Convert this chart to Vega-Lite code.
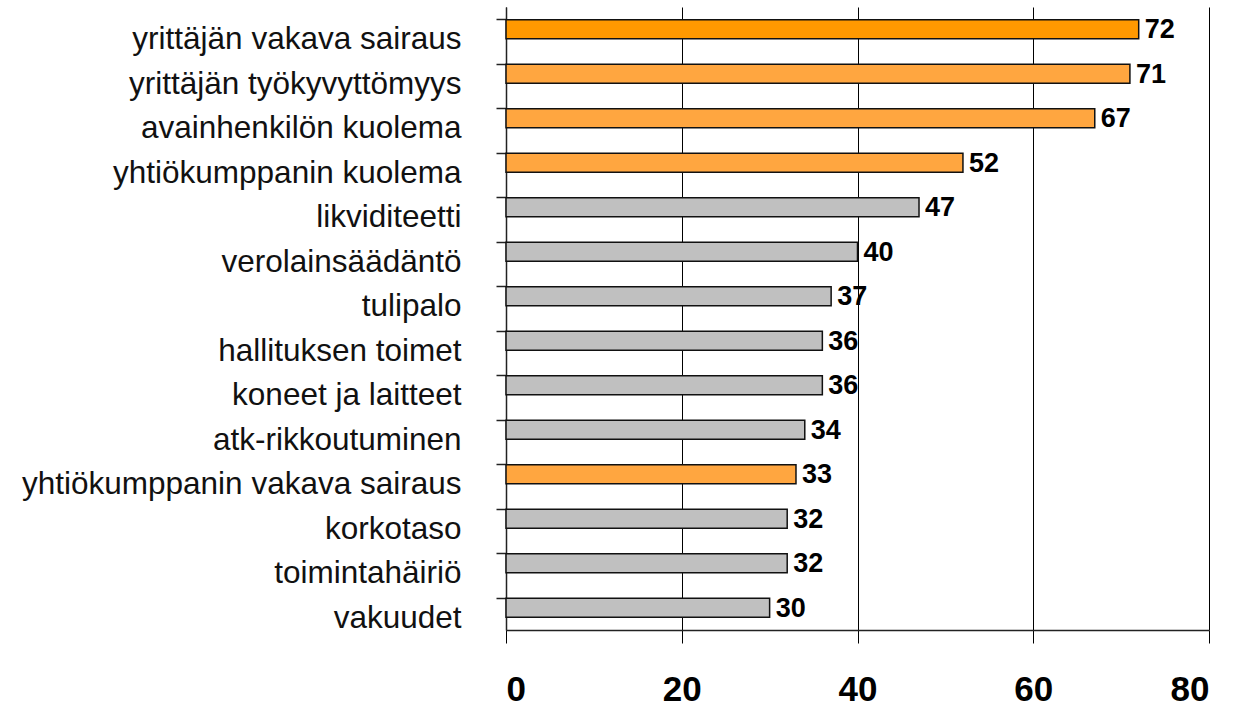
{
  "$schema": "https://vega.github.io/schema/vega-lite/v6.json",
  "autosize": "none",
  "width": 703,
  "height": 623,
  "padding": {"left": 506, "top": 7, "right": 36, "bottom": 77},
  "background": "white",
  "config": {"view": {"stroke": null}},
  "data": {
    "values": [
      {"item": "yrittäjän vakava sairaus", "value": 72, "group": "a"},
      {"item": "yrittäjän työkyvyttömyys", "value": 71, "group": "b"},
      {"item": "avainhenkilön kuolema", "value": 67, "group": "b"},
      {"item": "yhtiökumppanin kuolema", "value": 52, "group": "b"},
      {"item": "likviditeetti", "value": 47, "group": "c"},
      {"item": "verolainsäädäntö", "value": 40, "group": "c"},
      {"item": "tulipalo", "value": 37, "group": "c"},
      {"item": "hallituksen toimet", "value": 36, "group": "c"},
      {"item": "koneet ja laitteet", "value": 36, "group": "c"},
      {"item": "atk-rikkoutuminen", "value": 34, "group": "c"},
      {"item": "yhtiökumppanin vakava sairaus", "value": 33, "group": "b"},
      {"item": "korkotaso", "value": 32, "group": "c"},
      {"item": "toimintahäiriö", "value": 32, "group": "c"},
      {"item": "vakuudet", "value": 30, "group": "c"}
    ]
  },
  "encoding": {
    "y": {
      "field": "item", "type": "nominal", "sort": null,
      "scale": {"paddingInner": 0.573, "paddingOuter": 0.2865},
      "axis": {
        "title": null, "bandPosition": 0,
        "domainColor": "#222222", "domainWidth": 1.5,
        "tickColor": "#222222", "tickWidth": 1.5, "tickSize": 10,
        "labelFont": "Liberation Sans", "labelFontSize": 31.5, "labelColor": "#111111",
        "labelPadding": 35, "labelOffset": 11, "labelLimit": 600
      }
    },
    "x": {
      "field": "value", "type": "quantitative",
      "scale": {"domain": [0, 80], "nice": false},
      "axis": {
        "title": null, "values": [0, 20, 40, 60, 80],
        "grid": true, "gridColor": "#000000", "gridWidth": 1, "gridOpacity": 1,
        "domainColor": "#222222", "domainWidth": 1.5,
        "tickColor": "#000000", "tickWidth": 1, "tickSize": 13,
        "labelFont": "Liberation Sans", "labelFontWeight": "bold",
        "labelFontSize": 35, "labelColor": "#000000",
        "labelBaseline": "alphabetic", "labelPadding": 57
      }
    }
  },
  "layer": [
    {
      "mark": {"type": "bar", "stroke": "#111111", "strokeWidth": 1.5},
      "encoding": {
        "color": {
          "field": "group", "type": "nominal", "legend": null,
          "scale": {"domain": ["a", "b", "c"], "range": ["#FF9900", "#FFA640", "#C0C0C0"]}
        }
      }
    },
    {
      "mark": {
        "type": "text", "align": "left", "baseline": "middle", "dx": 6, "dy": 1,
        "font": "Liberation Sans",
        "fontWeight": "bold", "fontSize": 27, "color": "#000000"
      },
      "encoding": {"text": {"field": "value", "type": "quantitative"}}
    }
  ]
}
